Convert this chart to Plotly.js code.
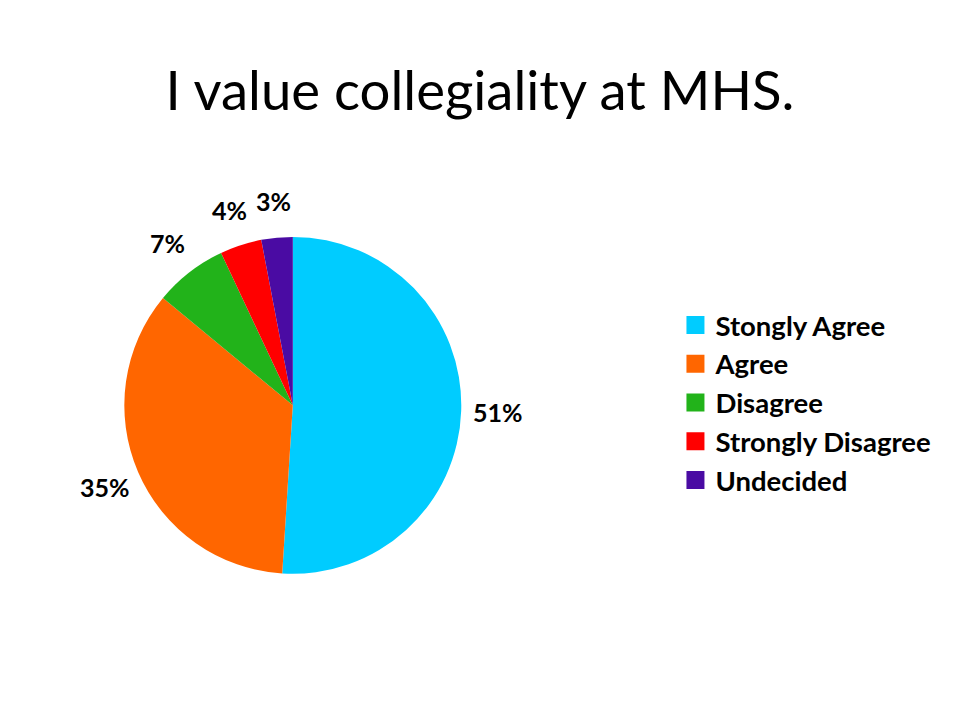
<!DOCTYPE html>
<html>
<head>
<meta charset="utf-8">
<script src="https://cdn.plot.ly/plotly-3.0.1.min.js"></script>
<style>html,body{margin:0;padding:0;background:#fff;}#chart{width:960px;height:720px;}</style>
</head>
<body>
<div id="chart"></div>
<script>
const categories = ["Stongly Agree", "Agree", "Disagree", "Strongly Disagree", "Undecided"];
const percentValues = [51, 35, 7, 4, 3];
const sliceColors = ["#00CCFF", "#FF6600", "#22B31A", "#FF0000", "#4A0BA3"];

const FONT = "Lato, 'Open Sans', sans-serif";
const W = 960, H = 720;
const pieDomain = { x: [0.129, 0.481], y: [0.203, 0.671] };

// Percentage labels placed radially at each slice's mid-angle (derived from the data)
const total = percentValues.reduce((a, b) => a + b, 0);
const cxPx = (pieDomain.x[0] + pieDomain.x[1]) / 2 * W;
const cyPx = (1 - (pieDomain.y[0] + pieDomain.y[1]) / 2) * H;
const labelRadius = 205;
let cum = 0;
const labelAnnotations = percentValues.map((v) => {
  const mid = (cum + v / 2) / total * 2 * Math.PI;
  cum += v;
  const px = cxPx + labelRadius * Math.sin(mid);
  const py = cyPx - labelRadius * Math.cos(mid);
  return {
    xref: "paper", yref: "paper",
    x: px / W, y: 1 - py / H,
    xanchor: "center", yanchor: "middle",
    text: v + "%", showarrow: false,
    font: { family: FONT, size: 25, color: "#000", weight: "bold" }
  };
});

const trace = {
  type: "pie",
  labels: categories,
  values: percentValues,
  sort: false,
  direction: "clockwise",
  rotation: 0,
  marker: { colors: sliceColors, line: { width: 0 } },
  textinfo: "none",
  domain: pieDomain,
  automargin: false,
  hoverinfo: "label+percent"
};

const layout = {
  width: W, height: H,
  margin: { l: 0, r: 0, t: 0, b: 0 },
  paper_bgcolor: "#fff",
  showlegend: true,
  title: {
    text: "I value collegiality at MHS.",
    font: { family: FONT, size: 54.5, color: "#000" },
    x: 0.5, xanchor: "center", y: 0.874, yanchor: "middle"
  },
  legend: {
    x: 0.7036, xanchor: "left", y: 0.5825, yanchor: "top",
    font: { family: FONT, size: 27.5, color: "#000", weight: "bold" },
    itemwidth: 30
  },
  annotations: labelAnnotations
};

Plotly.newPlot("chart", [trace], layout, { displayModeBar: false, staticPlot: true }).then(() => {
  document.querySelectorAll("#chart .legendpoints path.legendpie").forEach((p) => {
    p.setAttribute("transform", "translate(20,0) scale(1.5)");
  });
});
</script>
</body>
</html>
